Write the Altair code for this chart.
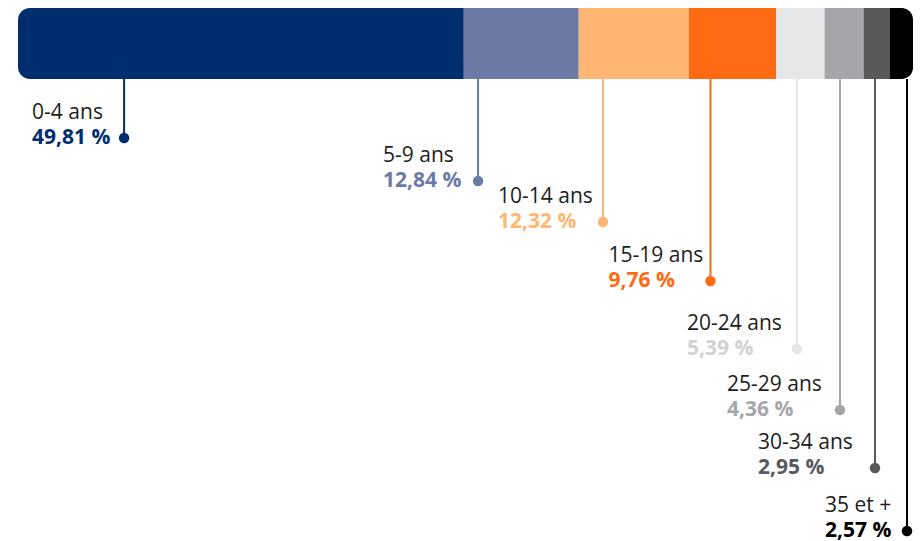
import altair as alt
import pandas as pd

# ---- data ----
categories = ["0-4 ans", "5-9 ans", "10-14 ans", "15-19 ans",
              "20-24 ans", "25-29 ans", "30-34 ans", "35 et +"]
shares = [49.81, 12.84, 12.32, 9.76, 5.39, 4.36, 2.95, 2.57]

# ---- styles ----
bar_colors = ["#002D6E", "#6B7BA6", "#FFB673", "#FF6B12",
              "#E6E7E9", "#A5A6A9", "#58595B", "#000000"]
value_colors = ["#002D6E", "#6B7BA6", "#FFB673", "#FF6B12",
                "#D1D2D4", "#A5A6A9", "#58595B", "#000000"]

# ---- annotation layout ----
leader_frac = [0.238, 0.124, 0.220, 0.246, 0.429, 0.395, 0.432, 0.74]  # where the leader leaves each segment
label_depth = [130, 173, 214, 273, 341, 402, 460, 523]                  # depth of each label dot
label_indent = [92, 95, 105, 102, 110, 113, 117, 82]                     # label block start, left of leader (px)

W, H = 906, 533
X0, X1 = 10, 905
BAR_BOTTOM = 71
PX_PER_UNIT = (X1 - X0) / 100.0

ends = pd.Series(shares).cumsum()
starts = ends - pd.Series(shares)
leaders = [s + f * v for s, f, v in zip(starts, leader_frac, shares)]
df = pd.DataFrame({
    "cat": categories,
    "share": shares,
    "start": starts,
    "end": ends,
    "leader": leaders,
    "labelx": [l - i / PX_PER_UNIT for l, i in zip(leaders, label_indent)],
    "depth": label_depth,
    "vlabel": [f"{v:.2f}".replace(".", ",") + " %" for v in shares],
    "bcolor": bar_colors,
    "vcolor": value_colors,
    "idx": list(range(len(categories))),
})

xscale = alt.Scale(domain=[0, 100], range=[X0, X1])
yscale = alt.Scale(domain=[0, H], range=[0, H])
n = len(categories)

base = alt.Chart(df)

def seg(filter_expr, **corners):
    return base.transform_filter(filter_expr).mark_bar(**corners).encode(
        x=alt.X("start:Q", scale=xscale, axis=None),
        x2="end:Q",
        y=alt.value(0),
        y2=alt.value(BAR_BOTTOM),
        color=alt.Color("bcolor:N", scale=None),
    )

first = seg("datum.idx == 0", cornerRadiusTopLeft=12, cornerRadiusBottomLeft=12)
middle = seg(f"datum.idx > 0 && datum.idx < {n-1}")
last = seg(f"datum.idx == {n-1}", cornerRadiusTopRight=12, cornerRadiusBottomRight=12)

rules = base.mark_rule(strokeWidth=2).encode(
    x=alt.X("leader:Q", scale=xscale, axis=None),
    y=alt.Y("depth:Q", scale=yscale, axis=None),
    y2=alt.value(BAR_BOTTOM),
    color=alt.Color("bcolor:N", scale=None),
)

dots = base.mark_circle(size=110, opacity=1).encode(
    x=alt.X("leader:Q", scale=xscale, axis=None),
    y=alt.Y("depth:Q", scale=yscale, axis=None),
    color=alt.Color("bcolor:N", scale=None),
)

names = base.mark_text(align="left", baseline="alphabetic", dy=-19,
                       font="Open Sans", fontSize=21, color="#1D1D1B").encode(
    x=alt.X("labelx:Q", scale=xscale, axis=None),
    y=alt.Y("depth:Q", scale=yscale, axis=None),
    text="cat:N",
)

values = base.mark_text(align="left", baseline="alphabetic", dy=6,
                        font="Open Sans", fontSize=21, fontWeight="bold").encode(
    x=alt.X("labelx:Q", scale=xscale, axis=None),
    y=alt.Y("depth:Q", scale=yscale, axis=None),
    text="vlabel:N",
    color=alt.Color("vcolor:N", scale=None),
)

chart = alt.layer(first, middle, last, rules, dots, names, values).properties(
    width=W, height=H, padding=0, background="white",
    autosize=alt.AutoSizeParams(type="none")
).configure_view(stroke=None)

chart.save("out.html", embed_options={"renderer": "svg", "actions": False})
